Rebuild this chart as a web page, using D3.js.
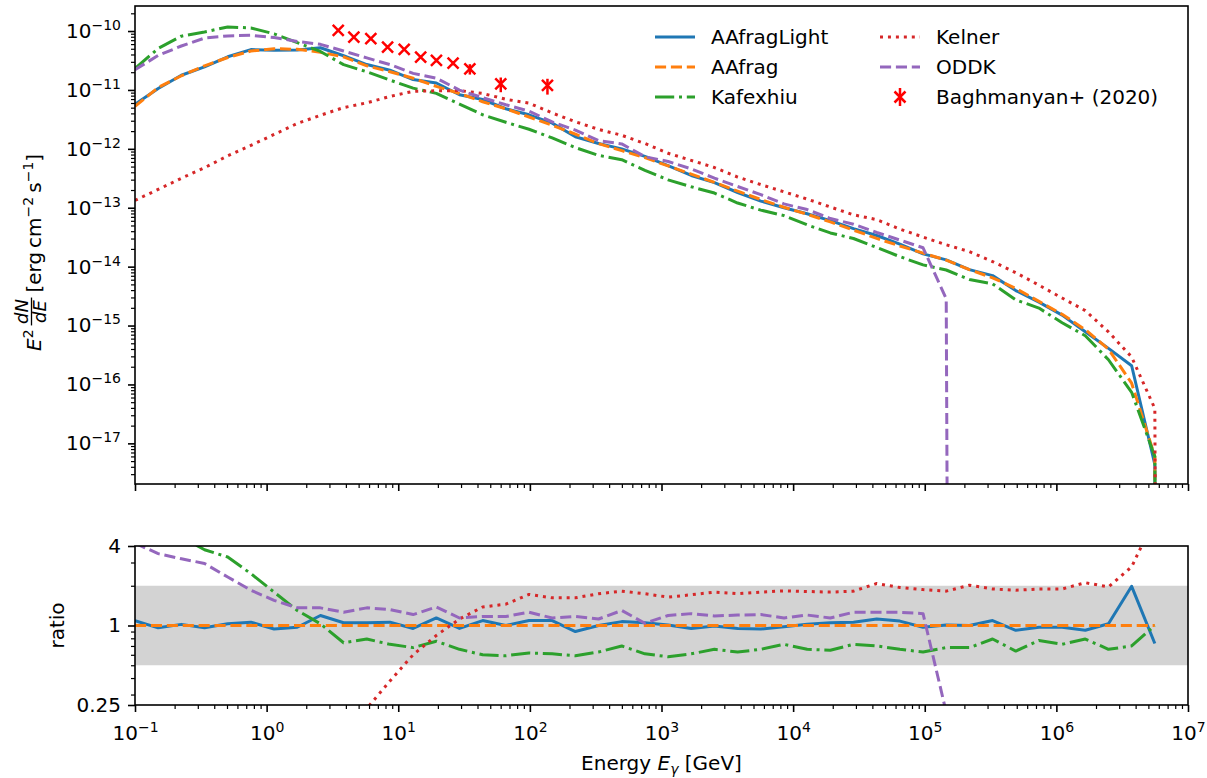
<!DOCTYPE html>
<html><head><meta charset="utf-8">
<script src="https://cdn.jsdelivr.net/npm/d3@7"></script>
<style>body{margin:0;background:#fff} svg text{font-family:"DejaVu Sans",sans-serif}</style>
</head><body><svg id="c" width="1207" height="778"></svg>
<script>
// ---------------- data ----------------
const energies = [0.1, 0.15, 0.225, 0.3375, 0.50625, 0.7594, 1.139, 1.709, 2.563, 3.844, 5.767, 8.650, 12.97, 19.46, 29.19, 43.79, 65.69, 98.53, 147.8, 221.7, 332.5, 498.8, 748.2, 1122, 1683, 2525, 3788, 5682, 8522, 12783, 19175, 28763, 43144, 64716, 97074, 145611, 218417, 327625, 491438, 737157, 1105735, 1658603, 2487905, 3731857, 5597786, 8396679];
// AAfrag spectrum E^2 dN/dE [erg cm^-2 s^-1]
const aafrag = [5.25e-12, 1.10e-11, 1.74e-11, 2.57e-11, 3.55e-11, 4.57e-11, 5.01e-11, 4.90e-11, 4.37e-11, 3.63e-11, 2.57e-11, 2.04e-11, 1.58e-11, 1.15e-11, 8.71e-12, 6.31e-12, 4.79e-12, 3.47e-12, 2.51e-12, 1.78e-12, 1.23e-12, 9.33e-13, 7.08e-13, 5.13e-13, 3.72e-13, 2.69e-13, 1.91e-13, 1.38e-13, 1.02e-13, 7.76e-14, 5.75e-14, 4.17e-14, 3.02e-14, 2.24e-14, 1.70e-14, 1.29e-14, 8.91e-15, 6.46e-15, 4.27e-15, 2.57e-15, 1.55e-15, 8.51e-16, 3.98e-16, 1.05e-16, 6.0e-18, 0];
// ratios to AAfrag (null = undefined)
const ratioAAfragLight = [1.09, 0.96, 1.02, 0.96, 1.03, 1.06, 0.94, 0.97, 1.19, 1.05, 1.05, 1.06, 0.95, 1.14, 0.95, 1.09, 1.0, 1.09, 1.09, 0.9, 1.0, 1.07, 1.05, 1.01, 0.95, 0.99, 0.95, 0.94, 0.98, 1.02, 1.05, 1.06, 1.12, 1.08, 0.97, 1.01, 1.0, 1.09, 0.92, 0.97, 0.97, 0.92, 1.03, 1.98, 0.73, null];
const ratioAAfrag = [1, 1, 1, 1, 1, 1, 1, 1, 1, 1, 1, 1, 1, 1, 1, 1, 1, 1, 1, 1, 1, 1, 1, 1, 1, 1, 1, 1, 1, 1, 1, 1, 1, 1, 1, 1, 1, 1, 1, 1, 1, 1, 1, 1, 1, null];
const ratioKafexhiu = [4.4, 4.6, 4.7, 3.75, 3.3, 2.47, 1.79, 1.3, 1.03, 0.74, 0.79, 0.72, 0.68, 0.76, 0.66, 0.6, 0.59, 0.62, 0.61, 0.59, 0.63, 0.70, 0.61, 0.58, 0.61, 0.66, 0.63, 0.66, 0.72, 0.66, 0.65, 0.72, 0.70, 0.66, 0.63, 0.68, 0.68, 0.79, 0.64, 0.77, 0.72, 0.79, 0.66, 0.70, 1.0, null];
const ratioKelner = [0.0254, 0.0186, 0.0182, 0.0186, 0.0214, 0.0251, 0.035, 0.055, 0.085, 0.138, 0.235, 0.38, 0.6, 0.84, 1.12, 1.38, 1.45, 1.72, 1.62, 1.62, 1.74, 1.82, 1.74, 1.64, 1.71, 1.79, 1.74, 1.79, 1.83, 1.81, 1.79, 1.82, 2.08, 1.94, 1.87, 1.82, 2.02, 1.89, 1.85, 1.89, 1.89, 2.11, 1.96, 2.78, 6.5, null];
const ratioODDK = [4.2, 3.5, 3.2, 2.95, 2.33, 1.85, 1.55, 1.36, 1.36, 1.26, 1.36, 1.32, 1.21, 1.38, 1.14, 1.17, 1.17, 1.26, 1.14, 1.17, 1.12, 1.30, 1.04, 1.19, 1.23, 1.18, 1.2, 1.21, 1.14, 1.2, 1.14, 1.26, 1.26, 1.26, 1.23, 0.22, 0, 0, 0, 0, 0, 0, 0, 0, 0, null];
// Baghmanyan+ (2020) data points
const baghEnergy = [3.50, 4.60, 6.19, 8.30, 11.1, 14.8, 19.5, 26.1, 35.0, 60.1, 136];
const baghFlux = [1.03e-10, 7.9e-11, 7.4e-11, 5.35e-11, 4.9e-11, 3.6e-11, 3.17e-11, 2.85e-11, 2.28e-11, 1.27e-11, 1.19e-11];
const baghErrFrac = [0.05, 0.05, 0.05, 0.06, 0.06, 0.07, 0.07, 0.08, 0.2, 0.28, 0.3];

const seriesNames = ["AAfragLight", "AAfrag", "Kafexhiu", "Kelner", "ODDK"];
const seriesRatios = [ratioAAfragLight, ratioAAfrag, ratioKafexhiu, ratioKelner, ratioODDK];
const seriesColors = ["#1f77b4", "#ff7f0e", "#2ca02c", "#d62728", "#9467bd"];
const seriesDash = [null, "11.1,4.8", "19.2,4.8,3,4.8", "3,4.95", "11.1,4.8"];
const xMajor = [0.1, 1, 10, 100, 1e3, 1e4, 1e5, 1e6, 1e7];
const xMajorExp = ["−1", "0", "1", "2", "3", "4", "5", "6", "7"];
const yTopMajorExp = [-10, -11, -12, -13, -14, -15, -16, -17];
const ratioTicks = [0.25, 1, 4];
const ratioTickLabels = ["0.25", "1", "4"];
const ratioMinor = [0.3, 0.4, 0.5, 0.6, 0.7, 0.8, 0.9, 2, 3];

// ---------------- layout ----------------
const L = 135, R = 1188, T1 = 6, B1 = 484, T2 = 546, B2 = 705;
const FS = 20, SUP = 14;
const svg = d3.select("#c");
const x = d3.scaleLog().domain([0.1, 1e7]).range([L, R]);
const yTop = d3.scaleLog().domain([Math.pow(10, -17.69), Math.pow(10, -9.575)]).range([B1, T1]);
const yRat = d3.scaleLog().base(2).domain([0.25, 4]).range([B2, T2]);

const defs = svg.append("defs");
defs.append("clipPath").attr("id", "clipTop").append("rect").attr("x", L).attr("y", T1).attr("width", R - L).attr("height", B1 - T1);
defs.append("clipPath").attr("id", "clipBot").append("rect").attr("x", L).attr("y", T2).attr("width", R - L).attr("height", B2 - T2);

function supText(sel, base, exp, rise) {
  sel.text(null);
  sel.append("tspan").text(base);
  sel.append("tspan").attr("font-size", SUP).attr("dy", -rise).text(exp);
}

// ---------------- top panel ----------------
const gTop = svg.append("g");
const gTopLines = gTop.append("g").attr("clip-path", "url(#clipTop)");
const topLine = d3.line()
  .defined(d => d.v !== null)
  .x(d => x(d.e))
  .y(d => d.v > 0 ? yTop(d.v) : B1 + 5000);
seriesNames.forEach((name, k) => {
  const pts = energies.map((e, i) => ({e: e, v: seriesRatios[k][i] === null ? 0 : aafrag[i] * seriesRatios[k][i]}));
  gTopLines.append("path").datum(pts).attr("d", topLine)
    .attr("fill", "none").attr("stroke", seriesColors[k]).attr("stroke-width", 3)
    .attr("stroke-dasharray", seriesDash[k]).attr("stroke-linejoin", "round");
});
// data points
const gData = gTop.append("g");
baghEnergy.forEach((e, i) => {
  const cx = x(e), v = baghFlux[i], f = baghErrFrac[i];
  gData.append("line").attr("x1", cx).attr("x2", cx).attr("y1", yTop(v * (1 - f))).attr("y2", yTop(v * (1 + f)))
    .attr("stroke", "#ff0000").attr("stroke-width", 2.5);
  const cy = yTop(v), s = 5.5;
  gData.append("path").attr("d", `M${cx - s},${cy - s}L${cx + s},${cy + s}M${cx - s},${cy + s}L${cx + s},${cy - s}`)
    .attr("stroke", "#ff0000").attr("stroke-width", 2.5).attr("fill", "none");
});

// axes top
function styleAxis(g) {
  g.select(".domain").remove();
  g.selectAll("line").attr("stroke", "#000").attr("stroke-width", 1.6);
  g.attr("font-family", "DejaVu Sans").attr("font-size", FS);
  g.selectAll("text").attr("fill", "#000");
}
const yTopMajor = yTopMajorExp.map(k => Math.pow(10, k));
const yTopMinor = [];
for (let k = -18; k <= -10; k++) for (let m = 2; m <= 9; m++) { const v = m * Math.pow(10, k); if (v >= yTop.domain()[0] && v <= yTop.domain()[1]) yTopMinor.push(v); }
const xMinor = [];
for (let k = -1; k <= 6; k++) for (let m = 2; m <= 9; m++) xMinor.push(m * Math.pow(10, k));

const axTopY = gTop.append("g").attr("transform", `translate(${L},0)`)
  .call(d3.axisLeft(yTop).tickValues(yTopMajor).tickSize(7).tickPadding(7));
styleAxis(axTopY);
axTopY.selectAll(".tick text").each(function(d, i) { supText(d3.select(this), "10", "−" + (-yTopMajorExp[i]), 8); });
const axTopYm = gTop.append("g").attr("transform", `translate(${L},0)`)
  .call(d3.axisLeft(yTop).tickValues(yTopMinor).tickSize(4).tickFormat(""));
styleAxis(axTopYm); axTopYm.selectAll("line").attr("stroke-width", 1.2);
const axTopX = gTop.append("g").attr("transform", `translate(0,${B1})`)
  .call(d3.axisBottom(x).tickValues(xMajor).tickSize(7).tickFormat(""));
styleAxis(axTopX);
const axTopXm = gTop.append("g").attr("transform", `translate(0,${B1})`)
  .call(d3.axisBottom(x).tickValues(xMinor).tickSize(4).tickFormat(""));
styleAxis(axTopXm); axTopXm.selectAll("line").attr("stroke-width", 1.2);
gTop.append("rect").attr("x", L).attr("y", T1).attr("width", R - L).attr("height", B1 - T1)
  .attr("fill", "none").attr("stroke", "#000").attr("stroke-width", 1.6);

// legend
const legRows = [[0, 0], [1, 0], [2, 0], [0, 1], [1, 1], [2, 1]];
const legColX = [655, 880];
const legRowY = [37, 67, 97];
const legendNames = seriesNames.concat(["Baghmanyan+ (2020)"]);
const gLeg = svg.append("g");
legendNames.forEach((name, k) => {
  const hx = legColX[legRows[k][1]], hy = legRowY[legRows[k][0]];
  if (k < 5) {
    gLeg.append("line").attr("x1", hx).attr("x2", hx + 40).attr("y1", hy).attr("y2", hy)
      .attr("stroke", seriesColors[k]).attr("stroke-width", 3).attr("stroke-dasharray", seriesDash[k]);
  } else {
    const cx = hx + 20, s = 5.5;
    gLeg.append("line").attr("x1", cx).attr("x2", cx).attr("y1", hy - 9).attr("y2", hy + 9).attr("stroke", "#ff0000").attr("stroke-width", 2.5);
    gLeg.append("path").attr("d", `M${cx - s},${hy - s}L${cx + s},${hy + s}M${cx - s},${hy + s}L${cx + s},${hy - s}`)
      .attr("stroke", "#ff0000").attr("stroke-width", 2.5);
  }
  gLeg.append("text").attr("x", hx + 56).attr("y", hy).attr("dy", "0.35em").attr("font-size", FS).attr("fill", "#000").text(name);
});

// y label top (E^2 dN/dE [erg cm^-2 s^-1])
const gyl = svg.append("g").attr("transform", "translate(41,351) rotate(-90)");
const t1 = gyl.append("text").attr("x", 0).attr("y", 0).attr("font-size", FS).attr("fill", "#000");
t1.append("tspan").attr("font-style", "italic").text("E");
t1.append("tspan").attr("font-size", SUP).attr("dy", -8).text("2");
const w1 = t1.node().getComputedTextLength();
const fx = w1 + 4;
const FR = 18;
const num = gyl.append("text").attr("x", fx).attr("y", -13).attr("font-size", FR).attr("font-style", "italic").attr("fill", "#000").text("dN");
const den = gyl.append("text").attr("x", fx).attr("y", 5).attr("font-size", FR).attr("font-style", "italic").attr("fill", "#000").text("dE");
const fw = Math.max(num.node().getComputedTextLength(), den.node().getComputedTextLength()) + 3;
num.attr("x", fx + fw / 2).attr("text-anchor", "middle");
den.attr("x", fx + fw / 2).attr("text-anchor", "middle");
gyl.append("line").attr("x1", fx).attr("x2", fx + fw).attr("y1", -9.5).attr("y2", -9.5).attr("stroke", "#000").attr("stroke-width", 1.3);
const t2 = gyl.append("text").attr("x", fx + fw + 5).attr("y", 0).attr("font-size", FS).attr("fill", "#000");
t2.append("tspan").text("[erg\u2009cm");
t2.append("tspan").attr("font-size", SUP).attr("dy", -8).text("−2");
t2.append("tspan").attr("dy", 8).text("\u2009s");
t2.append("tspan").attr("font-size", SUP).attr("dy", -8).text("−1");
t2.append("tspan").attr("dy", 8).text("]");

// ---------------- bottom panel ----------------
const gBot = svg.append("g");
gBot.append("rect").attr("x", L).attr("y", yRat(2)).attr("width", R - L).attr("height", yRat(0.5) - yRat(2)).attr("fill", "#d3d3d3");
const gBotLines = gBot.append("g").attr("clip-path", "url(#clipBot)");
const ratLine = d3.line()
  .defined(d => d.r !== null)
  .x(d => x(d.e))
  .y(d => d.r > 0 ? yRat(d.r) : B2 + 5000);
seriesNames.forEach((name, k) => {
  const pts = energies.map((e, i) => ({e: e, r: seriesRatios[k][i]}));
  gBotLines.append("path").datum(pts).attr("d", ratLine)
    .attr("fill", "none").attr("stroke", seriesColors[k]).attr("stroke-width", 3)
    .attr("stroke-dasharray", seriesDash[k]).attr("stroke-linejoin", "round");
});
const axBotY = gBot.append("g").attr("transform", `translate(${L},0)`)
  .call(d3.axisLeft(yRat).tickValues(ratioTicks).tickSize(7).tickPadding(7).tickFormat((d, i) => ratioTickLabels[i]));
styleAxis(axBotY);
const axBotYm = gBot.append("g").attr("transform", `translate(${L},0)`)
  .call(d3.axisLeft(yRat).tickValues(ratioMinor).tickSize(4).tickFormat(""));
styleAxis(axBotYm); axBotYm.selectAll("line").attr("stroke-width", 1.2);
const axBotX = gBot.append("g").attr("transform", `translate(0,${B2})`)
  .call(d3.axisBottom(x).tickValues(xMajor).tickSize(7).tickPadding(7));
styleAxis(axBotX);
axBotX.selectAll(".tick text").attr("dy", "1.05em").each(function(d, i) { supText(d3.select(this), "10", xMajorExp[i], 8); });
const axBotXm = gBot.append("g").attr("transform", `translate(0,${B2})`)
  .call(d3.axisBottom(x).tickValues(xMinor).tickSize(4).tickFormat(""));
styleAxis(axBotXm); axBotXm.selectAll("line").attr("stroke-width", 1.2);
gBot.append("rect").attr("x", L).attr("y", T2).attr("width", R - L).attr("height", B2 - T2)
  .attr("fill", "none").attr("stroke", "#000").attr("stroke-width", 1.6);

// labels
svg.append("text").attr("transform", `translate(64,${(T2 + B2) / 2}) rotate(-90)`).attr("text-anchor", "middle")
  .attr("font-size", FS).attr("fill", "#000").text("ratio");
const xl = svg.append("text").attr("x", (L + R) / 2).attr("y", 770).attr("text-anchor", "middle").attr("font-size", FS).attr("fill", "#000");
xl.append("tspan").text("Energy ");
xl.append("tspan").attr("font-style", "italic").text("E");
xl.append("tspan").attr("font-style", "italic").attr("font-size", SUP).attr("dy", 4).text("γ");
xl.append("tspan").attr("dy", -4).text(" [GeV]");
</script></body></html>
